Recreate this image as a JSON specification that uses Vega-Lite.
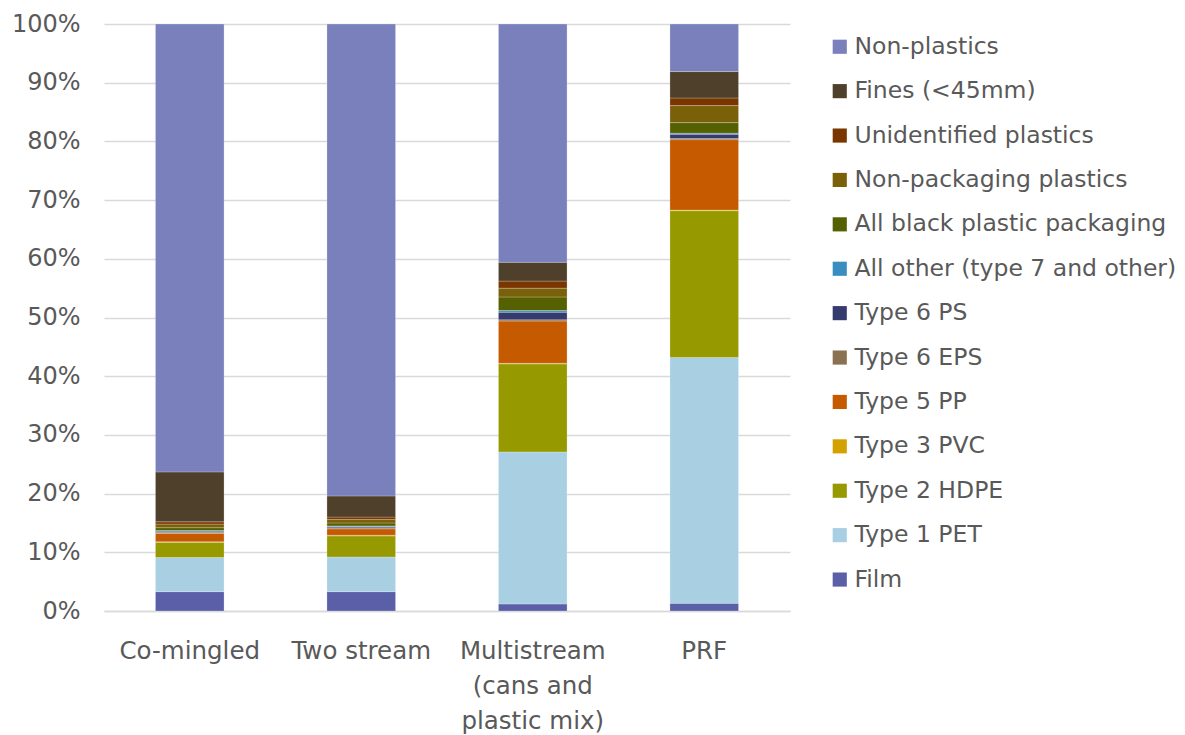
{
  "$schema": "https://vega.github.io/schema/vega-lite/v6.json",
  "width": 686,
  "height": 587,
  "autosize": "none",
  "padding": {"left": 104, "top": 24, "right": 395, "bottom": 124},
  "background": "white",
  "config": {"view": {"stroke": null}, "font": "DejaVu Sans"},
  "data": {"values": [
    {"g":"Co-mingled","c":"Film","o":1,"v":3.3},
    {"g":"Co-mingled","c":"Type 1 PET","o":2,"v":5.8},
    {"g":"Co-mingled","c":"Type 2 HDPE","o":3,"v":2.6},
    {"g":"Co-mingled","c":"Type 3 PVC","o":4,"v":0.1},
    {"g":"Co-mingled","c":"Type 5 PP","o":5,"v":1.4},
    {"g":"Co-mingled","c":"Type 6 EPS","o":6,"v":0.2},
    {"g":"Co-mingled","c":"Type 6 PS","o":7,"v":0.2},
    {"g":"Co-mingled","c":"All other (type 7 and other)","o":8,"v":0.1},
    {"g":"Co-mingled","c":"All black plastic packaging","o":9,"v":0.5},
    {"g":"Co-mingled","c":"Non-packaging plastics","o":10,"v":0.6},
    {"g":"Co-mingled","c":"Unidentified plastics","o":11,"v":0.4},
    {"g":"Co-mingled","c":"Fines (<45mm)","o":12,"v":8.5},
    {"g":"Co-mingled","c":"Non-plastics","o":13,"v":76.3},
    {"g":"Two stream","c":"Film","o":1,"v":3.3},
    {"g":"Two stream","c":"Type 1 PET","o":2,"v":5.9},
    {"g":"Two stream","c":"Type 2 HDPE","o":3,"v":3.6},
    {"g":"Two stream","c":"Type 3 PVC","o":4,"v":0.1},
    {"g":"Two stream","c":"Type 5 PP","o":5,"v":1.1},
    {"g":"Two stream","c":"Type 6 EPS","o":6,"v":0.2},
    {"g":"Two stream","c":"Type 6 PS","o":7,"v":0.2},
    {"g":"Two stream","c":"All other (type 7 and other)","o":8,"v":0.1},
    {"g":"Two stream","c":"All black plastic packaging","o":9,"v":0.5},
    {"g":"Two stream","c":"Non-packaging plastics","o":10,"v":0.6},
    {"g":"Two stream","c":"Unidentified plastics","o":11,"v":0.4},
    {"g":"Two stream","c":"Fines (<45mm)","o":12,"v":3.6},
    {"g":"Two stream","c":"Non-plastics","o":13,"v":80.4},
    {"g":"Multistream (cans and plastic mix)","c":"Film","o":1,"v":1.2},
    {"g":"Multistream (cans and plastic mix)","c":"Type 1 PET","o":2,"v":25.9},
    {"g":"Multistream (cans and plastic mix)","c":"Type 2 HDPE","o":3,"v":15.0},
    {"g":"Multistream (cans and plastic mix)","c":"Type 3 PVC","o":4,"v":0.1},
    {"g":"Multistream (cans and plastic mix)","c":"Type 5 PP","o":5,"v":7.2},
    {"g":"Multistream (cans and plastic mix)","c":"Type 6 EPS","o":6,"v":0.2},
    {"g":"Multistream (cans and plastic mix)","c":"Type 6 PS","o":7,"v":1.3},
    {"g":"Multistream (cans and plastic mix)","c":"All other (type 7 and other)","o":8,"v":0.3},
    {"g":"Multistream (cans and plastic mix)","c":"All black plastic packaging","o":9,"v":2.3},
    {"g":"Multistream (cans and plastic mix)","c":"Non-packaging plastics","o":10,"v":1.5},
    {"g":"Multistream (cans and plastic mix)","c":"Unidentified plastics","o":11,"v":1.2},
    {"g":"Multistream (cans and plastic mix)","c":"Fines (<45mm)","o":12,"v":3.2},
    {"g":"Multistream (cans and plastic mix)","c":"Non-plastics","o":13,"v":40.6},
    {"g":"PRF","c":"Film","o":1,"v":1.3},
    {"g":"PRF","c":"Type 1 PET","o":2,"v":41.9},
    {"g":"PRF","c":"Type 2 HDPE","o":3,"v":25.0},
    {"g":"PRF","c":"Type 3 PVC","o":4,"v":0.1},
    {"g":"PRF","c":"Type 5 PP","o":5,"v":12.0},
    {"g":"PRF","c":"Type 6 EPS","o":6,"v":0.2},
    {"g":"PRF","c":"Type 6 PS","o":7,"v":0.7},
    {"g":"PRF","c":"All other (type 7 and other)","o":8,"v":0.2},
    {"g":"PRF","c":"All black plastic packaging","o":9,"v":1.8},
    {"g":"PRF","c":"Non-packaging plastics","o":10,"v":2.9},
    {"g":"PRF","c":"Unidentified plastics","o":11,"v":1.3},
    {"g":"PRF","c":"Fines (<45mm)","o":12,"v":4.5},
    {"g":"PRF","c":"Non-plastics","o":13,"v":8.1}
  ]},
  "mark": {"type": "bar", "stroke": "#ffffff", "strokeWidth": 0.4, "strokeOpacity": 0.6},
  "encoding": {
    "x": {
      "field": "g", "type": "nominal", "sort": null, "title": null,
      "scale": {"paddingInner": 0.6, "paddingOuter": 0.3},
      "axis": {
        "labelAngle": 0, "labelFontSize": 24.5, "labelColor": "#595959", "labelPadding": 40,
        "labelBaseline": "middle",
        "ticks": false, "domainColor": "#d9d9d9", "domainWidth": 1.5, "labelLineHeight": 35,
        "labelExpr": "datum.label == 'Multistream (cans and plastic mix)' ? ['Multistream','(cans and','plastic mix)'] : datum.label"
      }
    },
    "y": {
      "field": "v", "type": "quantitative", "stack": "normalize", "title": null,
      "scale": {"domain": [0, 1]},
      "axis": {
        "format": ".0%", "values": [0,0.1,0.2,0.3,0.4,0.5,0.6,0.7,0.8,0.9,1],
        "labelFontSize": 24, "labelColor": "#595959", "labelPadding": 24,
        "ticks": false, "domain": false, "gridColor": "#d9d9d9", "gridWidth": 1.5
      }
    },
    "order": {"field": "o", "type": "quantitative", "sort": "ascending"},
    "color": {
      "field": "c", "type": "nominal", "title": null,
      "scale": {
        "domain": ["Non-plastics","Fines (<45mm)","Unidentified plastics","Non-packaging plastics","All black plastic packaging","All other (type 7 and other)","Type 6 PS","Type 6 EPS","Type 5 PP","Type 3 PVC","Type 2 HDPE","Type 1 PET","Film"],
        "range": ["#7a80bb","#4f402b","#7a3600","#7a6008","#556000","#3a8ebf","#363b6e","#8a7150","#c55a00","#d4a200","#969a00","#a8d0e2","#5b5fa8"]
      },
      "legend": {
        "orient": "none", "legendX": 724, "legendY": 11,
        "symbolType": "square", "symbolSize": 200, "symbolStrokeWidth": 0,
        "labelFontSize": 23.5, "labelColor": "#595959", "labelLimit": 400,
        "rowPadding": 19.4, "labelOffset": 3
      }
    }
  }
}
